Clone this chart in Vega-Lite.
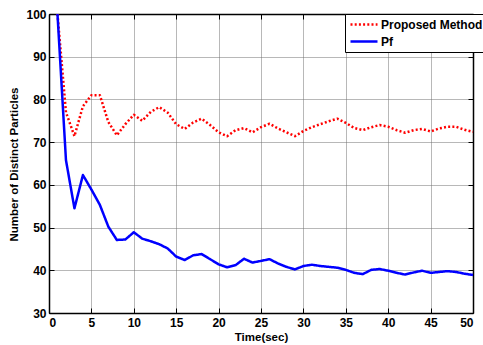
{
  "$schema": "https://vega.github.io/schema/vega-lite/v6.json",
  "width": 424,
  "height": 299,
  "autosize": "none",
  "padding": {"left": 49, "top": 14, "right": 10, "bottom": 32},
  "background": "white",
  "config": {
    "view": {"stroke": null},
    "font": "Liberation Sans",
    "axis": {
      "labelFont": "Liberation Sans", "labelFontWeight": "bold", "labelFontSize": 12, "labelColor": "black",
      "titleFont": "Liberation Sans", "titleFontWeight": "bold", "titleFontSize": 11.5, "titleColor": "black",
      "domainColor": "black", "domainWidth": 1.5, "tickColor": "black", "tickWidth": 1, "tickSize": -5,
      "gridColor": "#707070", "gridDash": [1, 1], "gridWidth": 1, "gridOpacity": 1
    }
  },
  "data": {
    "values": [
      {"t":1,"Proposed Method":100,"Pf":100},
      {"t":2,"Proposed Method":77,"Pf":65.8},
      {"t":3,"Proposed Method":71.4,"Pf":54.5},
      {"t":4,"Proposed Method":78.4,"Pf":62.3},
      {"t":5,"Proposed Method":81,"Pf":58.9},
      {"t":6,"Proposed Method":81,"Pf":55.3},
      {"t":7,"Proposed Method":74.7,"Pf":50.2},
      {"t":8,"Proposed Method":71.6,"Pf":47.1},
      {"t":9,"Proposed Method":74.2,"Pf":47.2},
      {"t":10,"Proposed Method":76.4,"Pf":48.9},
      {"t":11,"Proposed Method":75.0,"Pf":47.4},
      {"t":12,"Proposed Method":77.1,"Pf":46.8},
      {"t":13,"Proposed Method":78.2,"Pf":46.1},
      {"t":14,"Proposed Method":76.9,"Pf":45.1},
      {"t":15,"Proposed Method":74.2,"Pf":43.2},
      {"t":16,"Proposed Method":73.1,"Pf":42.4},
      {"t":17,"Proposed Method":74.6,"Pf":43.5},
      {"t":18,"Proposed Method":75.5,"Pf":43.8},
      {"t":19,"Proposed Method":74.0,"Pf":42.6},
      {"t":20,"Proposed Method":72.3,"Pf":41.4},
      {"t":21,"Proposed Method":71.4,"Pf":40.7},
      {"t":22,"Proposed Method":72.8,"Pf":41.2},
      {"t":23,"Proposed Method":73.3,"Pf":42.7},
      {"t":24,"Proposed Method":72.3,"Pf":41.8},
      {"t":25,"Proposed Method":73.5,"Pf":42.2},
      {"t":26,"Proposed Method":74.3,"Pf":42.6},
      {"t":27,"Proposed Method":73.2,"Pf":41.6},
      {"t":28,"Proposed Method":72.3,"Pf":40.8},
      {"t":29,"Proposed Method":71.4,"Pf":40.2},
      {"t":30,"Proposed Method":72.6,"Pf":41.0},
      {"t":31,"Proposed Method":73.5,"Pf":41.3},
      {"t":32,"Proposed Method":74.2,"Pf":41.0},
      {"t":33,"Proposed Method":74.9,"Pf":40.8},
      {"t":34,"Proposed Method":75.5,"Pf":40.6},
      {"t":35,"Proposed Method":74.5,"Pf":40.1},
      {"t":36,"Proposed Method":73.3,"Pf":39.4},
      {"t":37,"Proposed Method":72.8,"Pf":39.1},
      {"t":38,"Proposed Method":73.5,"Pf":40.1},
      {"t":39,"Proposed Method":74.0,"Pf":40.3},
      {"t":40,"Proposed Method":73.6,"Pf":39.9},
      {"t":41,"Proposed Method":72.8,"Pf":39.4},
      {"t":42,"Proposed Method":72.2,"Pf":39.0},
      {"t":43,"Proposed Method":72.8,"Pf":39.5},
      {"t":44,"Proposed Method":73.1,"Pf":39.9},
      {"t":45,"Proposed Method":72.5,"Pf":39.4},
      {"t":46,"Proposed Method":73.2,"Pf":39.6},
      {"t":47,"Proposed Method":73.6,"Pf":39.8},
      {"t":48,"Proposed Method":73.6,"Pf":39.6},
      {"t":49,"Proposed Method":72.9,"Pf":39.2},
      {"t":50,"Proposed Method":72.4,"Pf":38.9}
    ]
  },
  "transform": [{"fold": ["Proposed Method", "Pf"], "as": ["series", "v"]}],
  "layer": [
    {
      "mark": {"type": "point", "opacity": 0},
      "encoding": {
        "x": {"field": "t", "type": "quantitative", "scale": {"domain": [0, 50], "nice": false},
              "axis": {"orient": "top", "labels": false, "grid": false, "title": null, "values": [0,5,10,15,20,25,30,35,40,45,50]}},
        "y": {"field": "v", "type": "quantitative", "scale": {"domain": [30, 100], "nice": false, "zero": false},
              "axis": {"orient": "right", "labels": false, "grid": false, "title": null, "values": [30,40,50,60,70,80,90,100]}}
      }
    },
    {
      "mark": {"type": "line", "strokeWidth": 2.5, "strokeCap": "butt", "strokeJoin": "round"},
      "encoding": {
        "x": {"field": "t", "type": "quantitative", "scale": {"domain": [0, 50], "nice": false},
              "axis": {"orient": "bottom", "grid": true, "title": "Time(sec)", "values": [0,5,10,15,20,25,30,35,40,45,50],
                       "labelPadding": 9, "titleX": 212, "titleY": 24, "titleBaseline": "middle", "titleAlign": "center"}},
        "y": {"field": "v", "type": "quantitative", "scale": {"domain": [30, 100], "nice": false, "zero": false},
              "axis": {"orient": "left", "grid": true, "title": "Number of Distinct Particles", "values": [30,40,50,60,70,80,90,100],
                       "labelPadding": 8, "titleX": -35, "titleY": 150, "titleAngle": -90, "titleBaseline": "middle", "titleAlign": "center"}},
        "color": {"field": "series", "type": "nominal",
                  "scale": {"domain": ["Proposed Method", "Pf"], "range": ["#ff0000", "#0000ff"]},
                  "legend": {"title": null, "orient": "none", "legendX": 296, "legendY": 0,
                             "symbolType": "stroke", "symbolSize": 729, "symbolStrokeWidth": 2.5, "clipHeight": 13,
                             "labelFont": "Liberation Sans", "labelFontWeight": "bold", "labelFontSize": 12, "labelColor": "black",
                             "labelOffset": 2, "padding": 4, "rowPadding": 4,
                             "fillColor": "white", "strokeColor": "black", "cornerRadius": 0}},
        "strokeDash": {"field": "series", "type": "nominal",
                       "scale": {"domain": ["Proposed Method", "Pf"], "range": [[2, 2.2], [1, 0]]},
                       "legend": {"title": null, "orient": "none", "legendX": 296, "legendY": 0,
                             "symbolType": "stroke", "symbolSize": 729, "symbolStrokeWidth": 2.5, "clipHeight": 13,
                             "labelFont": "Liberation Sans", "labelFontWeight": "bold", "labelFontSize": 12, "labelColor": "black",
                             "labelOffset": 2, "padding": 4, "rowPadding": 4,
                             "fillColor": "white", "strokeColor": "black", "cornerRadius": 0}}
      }
    }
  ],
  "resolve": {"axis": {"x": "independent", "y": "independent"}}
}
